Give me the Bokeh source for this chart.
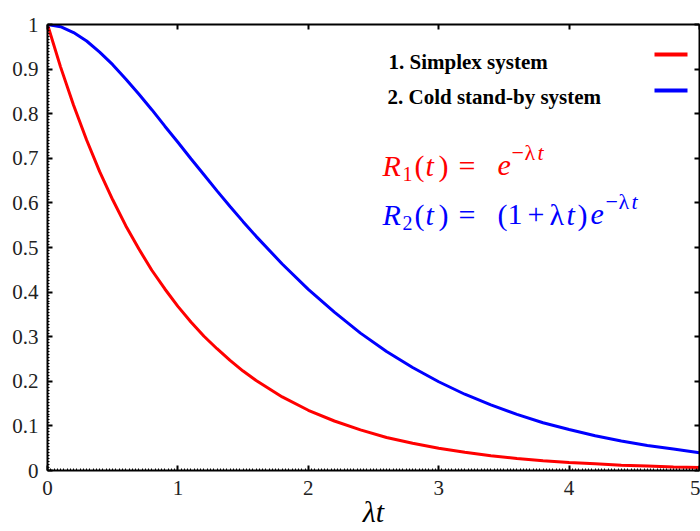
from bokeh.plotting import figure
from bokeh.models import Range1d, LinearAxis, Label, CustomJSTickFormatter, FixedTicker
from bokeh.embed import file_html
from bokeh.resources import INLINE

# ---- data ----
t_vals = [0.0, 0.1, 0.2, 0.3, 0.4, 0.5, 0.6, 0.7, 0.8, 0.9, 1.0, 1.1, 1.2,
          1.3, 1.4, 1.5, 1.6, 1.8, 2.0, 2.2, 2.4, 2.6, 2.8, 3.0, 3.2, 3.4,
          3.6, 3.8, 4.0, 4.2, 4.4, 4.6, 4.8, 5.0]
simplex = [1.000, 0.905, 0.819, 0.741, 0.670, 0.607, 0.549, 0.497, 0.449,
           0.407, 0.368, 0.333, 0.301, 0.273, 0.247, 0.223, 0.202, 0.165,
           0.135, 0.111, 0.091, 0.074, 0.061, 0.050, 0.041, 0.033, 0.027,
           0.022, 0.018, 0.015, 0.012, 0.010, 0.008, 0.007]
standby = [1.000, 0.995, 0.982, 0.963, 0.938, 0.910, 0.878, 0.844, 0.809,
           0.772, 0.736, 0.699, 0.663, 0.627, 0.592, 0.558, 0.525, 0.463,
           0.406, 0.355, 0.308, 0.267, 0.231, 0.199, 0.171, 0.147, 0.126,
           0.107, 0.092, 0.078, 0.066, 0.056, 0.048, 0.040]
x_ticks = [0, 1, 2, 3, 4, 5]
y_ticks = [0, 0.1, 0.2, 0.3, 0.4, 0.5, 0.6, 0.7, 0.8, 0.9, 1]
series_names = ["1. Simplex system", "2. Cold stand-by system"]
series_colors = ["#ff0000", "#0000ff"]
x_title = "\u03bbt"

W, H = 700, 531
FL, FR, FT, FB = 47, 699, 24, 470   # frame edges in page pixels
SERIF = "Liberation Serif"

p = figure(width=W, height=H, output_backend="svg", toolbar_location=None,
           x_range=Range1d(0, 5), y_range=Range1d(0, 1),
           x_axis_location=None, y_axis_location=None,
           min_border_left=FL, min_border_top=FT, min_border_bottom=H - FB,
           min_border_right=W - FR)
p.xgrid.visible = False
p.ygrid.visible = False
p.outline_line_color = None
p.background_fill_color = "white"


def style_axis(ax, labels=True, minor=True):
    ax.axis_line_width = 2
    ax.axis_line_color = "black"
    ax.major_tick_in = 5
    ax.major_tick_out = 0
    ax.major_tick_line_width = 2
    ax.major_tick_line_color = "black"
    if minor:
        ax.minor_tick_in = 2
        ax.minor_tick_out = 0
        ax.minor_tick_line_width = 1
        ax.minor_tick_line_color = "black"
    else:
        ax.minor_tick_line_color = None
    ax.major_label_text_font = SERIF
    ax.major_label_text_font_size = "21px"
    ax.major_label_text_color = "#222222"
    if not labels:
        ax.formatter = CustomJSTickFormatter(code="return ''")
        ax.major_label_standoff = 0


xb = LinearAxis(ticker=FixedTicker(ticks=x_ticks,
                                   minor_ticks=[i / 40 for i in range(0, 201)]))
style_axis(xb)
xb.major_label_standoff = 10
xb.axis_label = x_title
xb.axis_label_text_font = SERIF
xb.axis_label_text_font_size = "30px"
xb.axis_label_text_font_style = "italic"
xb.axis_label_text_color = "black"
xb.axis_label_standoff = -3
p.add_layout(xb, "below")

yl = LinearAxis(ticker=FixedTicker(ticks=y_ticks,
                                   minor_ticks=[i / 150 for i in range(0, 151)]))
style_axis(yl)
yl.major_label_standoff = 9
p.add_layout(yl, "left")

xt = LinearAxis(ticker=FixedTicker(ticks=x_ticks))
style_axis(xt, labels=False, minor=False)
p.add_layout(xt, "above")

yr = LinearAxis(ticker=FixedTicker(ticks=y_ticks))
style_axis(yr, labels=False, minor=False)
p.add_layout(yr, "right")

p.line(t_vals, simplex, line_color=series_colors[0], line_width=3)
p.line(t_vals, standby, line_color=series_colors[1], line_width=3)


def put(text, px, py, size, color="black", style="normal"):
    # screen units are measured from the frame's bottom-left corner
    p.add_layout(Label(x=px - FL, y=FB - py, x_units="screen", y_units="screen",
                       text=text, text_font=SERIF, text_font_size=f"{size}px",
                       text_font_style=style, text_color=color,
                       text_baseline="alphabetic", text_align="left"))


# legend texts
put(series_names[0], 388, 61, 21, "black", "bold")
put(series_names[1], 387, 96, 21, "black", "bold")


def sx(px):
    return (px - FL) / (FR - FL) * 5


def sy(py):
    return (FB - py) / (FB - FT)


# legend swatches
p.segment(x0=[sx(654), sx(654)], y0=[sy(54), sy(90)],
          x1=[sx(687), sx(687)], y1=[sy(54), sy(90)],
          line_color=series_colors, line_width=4)

# formulas
red, blue = series_colors
put("R", 382, 165, 30, red, "italic")
put("1", 402, 173, 20, red)
put("(", 414, 165, 30, red)
put("t", 425, 165, 30, red, "italic")
put(")", 438, 165, 30, red)
put("=", 458, 165, 30, red)
put("e", 497, 165, 30, red, "italic")
put("\u2212", 511, 152, 22, red)
put("\u03bb", 524, 152, 22, red)
put("t", 537, 152, 22, red, "italic")

put("R", 382, 214, 30, blue, "italic")
put("2", 402, 222, 20, blue)
put("(", 414, 214, 30, blue)
put("t", 425, 214, 30, blue, "italic")
put(")", 438, 214, 30, blue)
put("=", 458, 214, 30, blue)
put("(", 497, 214, 30, blue)
put("1", 507, 214, 30, blue)
put("+", 527, 214, 30, blue)
put("\u03bb", 549, 214, 30, blue)
put("t", 566, 214, 30, blue, "italic")
put(")", 577, 214, 30, blue)
put("e", 590, 214, 30, blue, "italic")
put("\u2212", 605, 201, 22, blue)
put("\u03bb", 618, 201, 22, blue)
put("t", 631, 201, 22, blue, "italic")

open("out.html", "w").write(file_html(p, INLINE))
